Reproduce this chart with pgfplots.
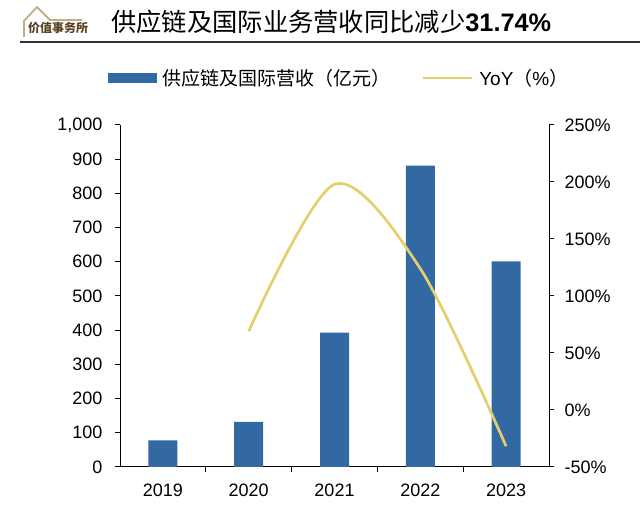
\documentclass[border=0pt]{standalone}
\usepackage{pgfplots}
\pgfplotsset{compat=1.18}
\usepackage{fontspec}
\setmainfont{Liberation Sans}
\newfontfamily\cjk{Noto Sans CJK SC}
\definecolor{barblue}{HTML}{3369A2}
\definecolor{lineyellow}{HTML}{E3CF6E}
\definecolor{logotan}{HTML}{C2AE86}
\definecolor{logobrown}{HTML}{5A4222}
\pgfplotstableread{
x rev
0 78
1 132
2 393
3 881
4 601
}\revtable
\pgfplotstableread{
x yoy
1 69
2 198
3 124
4 -31.74
}\yoytable
\begin{document}
\begin{tikzpicture}[x=1bp,y=1bp]
\useasboundingbox (0,0) rectangle (640,508);
% logo
\draw[logotan, line width=1.8bp, line join=round] (24,471) -- (24,487) -- (37,501) -- (50,488) -- (82,488);
\node[anchor=west, inner sep=0pt, text=logobrown] at (28,480) {\cjk\fontsize{12bp}{13bp}\selectfont\bfseries 价值事务所};
% title
\node[anchor=west, inner sep=0pt] at (111,486) {\fontsize{25.3bp}{29bp}\selectfont{\cjk 供应链及国际业务营收同比减少}\bfseries 31.74\%};
\draw[line width=1.6bp, black!80] (20,466) -- (640,466);
\begin{axis}[
  at={(120bp,41bp)}, anchor=south west, scale only axis,
  width=429bp, height=342bp,
  xmin=-0.5, xmax=4.5, ymin=0, ymax=1000,
  axis x line*=bottom, axis y line*=left,
  axis line style={line width=1bp, black, -},
  xtick={0.5,1.5,2.5,3.5}, xticklabels={},
  extra x ticks={0,1,2,3,4},
  extra x tick labels={2019,2020,2021,2022,2023},
  extra x tick style={major tick length=0pt},
  ytick={0,100,...,1000},
  tick align=outside, major tick length=5bp,
  tick style={line width=1bp, black},
  ticklabel style={font=\fontsize{18bp}{20bp}\selectfont},
  yticklabel style={/pgf/number format/1000 sep={,}, xshift=-9bp},
  xticklabel style={yshift=-13bp},
  /pgf/number format/assume math mode=true,
]
\addplot[ybar, bar width=29bp, fill=barblue, draw=none] table[x=x, y=rev] {\revtable};
\end{axis}
\begin{axis}[
  at={(120bp,41bp)}, anchor=south west, scale only axis,
  width=429bp, height=342bp,
  xmin=-0.5, xmax=4.5, ymin=-50, ymax=250,
  axis x line=none, axis y line*=right,
  axis line style={line width=1bp, black, -},
  ytick={-50,0,...,250},
  yticklabel={\pgfmathprintnumber{\tick}\%},
  tick align=outside, major tick length=5bp,
  tick style={line width=1bp, black},
  ticklabel style={font=\fontsize{18bp}{20bp}\selectfont},
  yticklabel style={xshift=7bp},
  /pgf/number format/assume math mode=true,
  legend columns=2,
  legend style={draw=none, fill=none, at={(-0.035,1.137)}, anchor=west,
    font=\fontsize{19bp}{21bp}\selectfont,
    /tikz/every even column/.append style={column sep=29bp}},
]
\addlegendimage{legend image code/.code={\fill[barblue] (0bp,-4.5bp) rectangle (48bp,4.5bp); \path (52bp,0bp);}}
\addlegendentry{\cjk 供应链及国际营收（亿元）}
\addplot[lineyellow, line width=2.7bp, smooth,
  legend image code/.code={\draw[lineyellow, line width=2.7bp] (0bp,0bp) -- (49bp,0bp); \path (53bp,0bp);}]
  table[x=x, y=yoy] {\yoytable};
\addlegendentry{YoY{\cjk （}\%{\cjk ）}}
\end{axis}
\end{tikzpicture}
\end{document}
